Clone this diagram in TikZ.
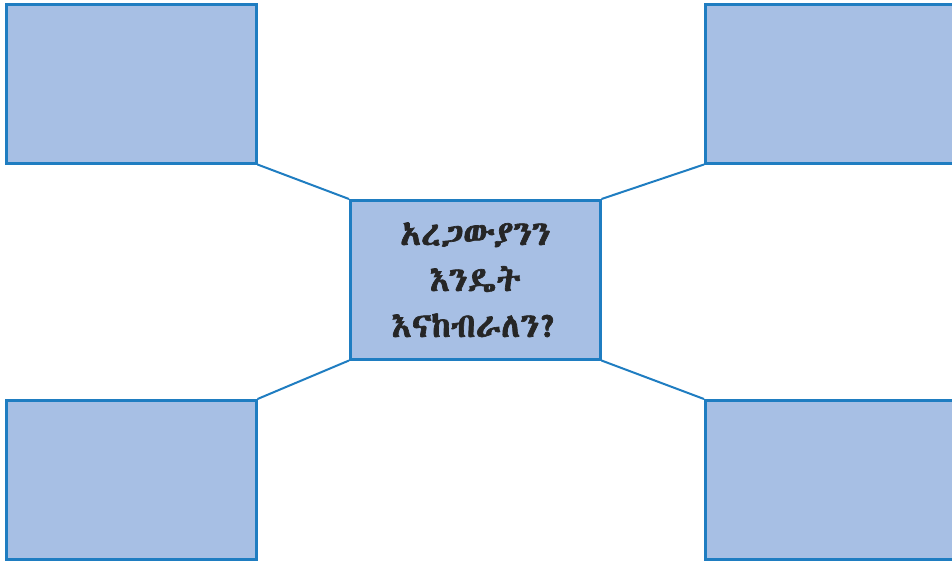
\documentclass[tikz,border=0pt]{standalone}
\usepackage{fontspec}
\newfontfamily\ethfont[Script=Ethiopic,FakeBold=2]{Abyssinica SIL}
\definecolor{boxfill}{HTML}{A7BFE4}
\definecolor{boxline}{HTML}{1F7DC1}
\tikzset{
  panel/.style={draw=boxline, fill=boxfill, line width=2.5pt, minimum width=250pt, minimum height=159pt, inner sep=0pt, anchor=north west},
  link/.style={draw=boxline, line width=2pt}
}
\begin{document}
\begin{tikzpicture}[x=1pt,y=-1pt]
\useasboundingbox (0,0) rectangle (952,562);
\node[panel] (tl) at (5,3) {};
\node[panel] (tr) at (704,3) {};
\node[panel] (bl) at (5,399) {};
\node[panel] (br) at (704,399) {};
\node[panel, align=center, text=black!85, font=\ethfont\fontsize{34}{46}\selectfont] (c) at (349,199) {አረጋውያንን\\እንዴት\\እናከብራለን?};
\draw[link] (tl.south east) -- (c.north west);
\draw[link] (tr.south west) -- (c.north east);
\draw[link] (bl.north east) -- (c.south west);
\draw[link] (br.north west) -- (c.south east);
\end{tikzpicture}
\end{document}
